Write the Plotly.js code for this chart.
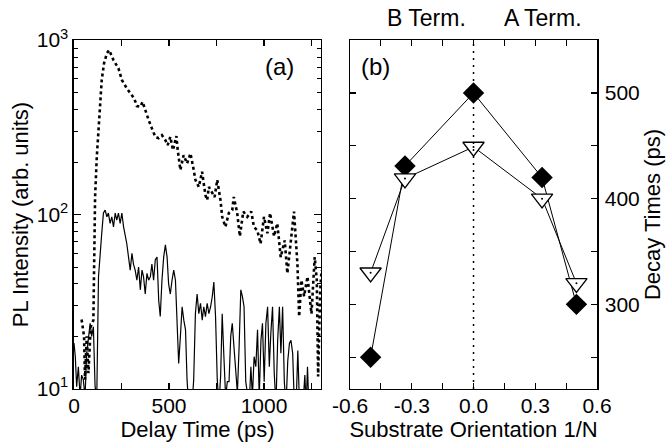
<!DOCTYPE html>
<html>
<head>
<meta charset="utf-8">
<script src="https://cdn.plot.ly/plotly-3.0.1.min.js"></script>
<style>html,body{margin:0;padding:0;background:#fff;}</style>
</head>
<body>
<div id="chart" style="width:669px;height:446px;"></div>
<script>
// Panel (a): PL transients
const timeDotted = [40,53,58,67,76,88,102,111,120,129,137,146,158,173,185,208,234,252,278,305,317,331,349,361,375,393,410,428,445,463,481,493,507,521,539,546,560,577,595,613,627,639,657,674,692,701,710,727,740,754,771,780,797,815,833,841,859,873,891,912,933,947,965,982,1000,1018,1032,1053,1070,1088,1109,1123,1141,1158,1176,1185,1197,1211,1229,1250,1267,1278,1285,1296,1303];
const intensityDotted = [25,20,11.3,20,12.3,22.7,24.8,126,214,318,453,591,735,839,877,768,689,591,529,484,463,419,415,443,397,348,312,279,274,285,267,250,279,234,282,234,180,219,196,224,188,158,144,176,129,121,144,132,126,158,121,97,85,102,106,126,102,75,104,97,104,85,81,68,97,78,102,75,89,57,71,46,71,104,52,26,42,34,44,27,57,42,11.8,37,48];

const timeSolid = [0,7,14,23,32,40,49,58,67,76,85,93,102,111,120,129,137,146,155,164,173,181,190,199,208,217,225,234,243,252,261,269,278,287,296,305,313,322,331,340,349,358,366,375,384,393,402,410,419,428,437,446,454,463,472,481,490,498,507,516,525,534,543,551,560,569,578,587,595,604,613,621,630,639,648,657,666,675,683,692,701,710,719,728,736,745,754,763,772,780,789,798,807,816,825,833,842,851,860,869,878,886,895,904,913,922,931,939,948,957,966,975,984,992,1001,1010,1019,1028,1036,1045,1054,1063,1072,1081,1089,1098,1107,1116,1125,1134,1142,1151,1160,1169,1178,1187,1196,1205,1215,1222,1229,1236];
const intensitySolid = [18.3,15.3,10.3,13.4,9,12,11.3,9,16,20,23.8,20,22.7,10.3,9,44,55,78,102,106,97,102,89,97,85,102,93,102,89,102,85,78,68,57,48,60,52,48,42,50,37,48,44,35,46,42,44,52,42,55,57,32,26,42,57,67,57,40,35,42,48,42,20.8,14,20,29.6,24.8,21.8,11.3,8,8,8,11.3,27,35,27,31,24.8,29.6,26,31,27,29.6,34,41,26,11.3,8,12,27,15.3,9,11,11,20,23.8,17.4,13.4,9.5,17.4,37,34,29.6,11,9,8,13.4,9,15.3,13.4,21.8,9,19,23.8,11,23.8,29.6,13.4,20.8,29.6,12.3,8,19,29.6,16,29.6,11,8,14.4,18.3,19,16,8,8,16.6,8,8,8,12,8,13.4,8];

const delayTickVals = [0,500,1000];
const delayTickText = ['0','500','1000'];
const plTickVals = [10,100,1000];
const plTickText = ['10<sup>1</sup>','10<sup>2</sup>','10<sup>3</sup>'];

// Panel (b): decay times vs substrate orientation
const orientation = [-0.5,-0.333,0,0.333,0.5];
const decayFilled = [250,431,500,420,300];
const decayOpen = [330,419,449,400,320];
const orientTickVals = [-0.6,-0.3,0,0.3,0.6];
const orientTickText = ['-0.6','-0.3','0.0','0.3','0.6'];
const decayTickVals = [300,400,500];
const decayTickText = ['300','400','500'];

const FONT = 'Liberation Sans, Arial, Helvetica, sans-serif';

const traces = [
  {x: timeDotted, y: intensityDotted, xaxis:'x', yaxis:'y', mode:'lines',
   line:{color:'black', width:2.6, dash:'dot'}},
  {x: timeSolid, y: intensitySolid, xaxis:'x', yaxis:'y', mode:'lines',
   line:{color:'black', width:1.2}},
  {x: orientation, y: decayFilled, xaxis:'x2', yaxis:'y2', mode:'lines+markers',
   line:{color:'black', width:1},
   marker:{symbol:'diamond', size:16.5, color:'black'}},
  {x: orientation, y: decayOpen, xaxis:'x2', yaxis:'y2', mode:'lines+markers',
   line:{color:'black', width:1},
   marker:{symbol:'triangle-down', size:18.5, color:'white', line:{color:'black', width:1.3}}},
  {x: orientation, y: decayOpen, xaxis:'x2', yaxis:'y2', mode:'markers',
   marker:{symbol:'circle', size:2, color:'black'}}
];

const common = {
  showline:true, linecolor:'black', linewidth:1.5, mirror:'ticks',
  ticks:'inside', tickcolor:'black', tickwidth:1.2,
  showgrid:false, zeroline:false, automargin:false,
  tickfont:{size:21, family:FONT, color:'black'}
};

const layout = {
  width:669, height:446,
  margin:{l:0, r:0, t:0, b:0},
  paper_bgcolor:'white', plot_bgcolor:'white',
  showlegend:false,
  font:{family:FONT, color:'black', size:21},
  xaxis: Object.assign({}, common, {
    domain:[0.1106,0.4798], anchor:'y', range:[0,1300],
    tickmode:'array', tickvals:delayTickVals, ticktext:delayTickText, ticklen:6,
    ticklabelstandoff:-3,
    minor:{tickmode:'linear', tick0:0, dtick:250, ticks:'inside', ticklen:6, tickcolor:'black', tickwidth:1.2},
    title:{text:'Delay Time (ps)', font:{size:22}, standoff:4}
  }),
  yaxis: Object.assign({}, common, {
    domain:[0.128,0.910], anchor:'x', type:'log', range:[1,3],
    tickmode:'array', tickvals:plTickVals, ticktext:plTickText, ticklen:7,
    minor:{dtick:'D1', ticks:'inside', ticklen:4, tickcolor:'black', tickwidth:1},
    title:{text:'PL Intensity (arb. units)', font:{size:22}, standoff:2}
  }),
  xaxis2: Object.assign({}, common, {
    domain:[0.5232,0.8924], anchor:'y2', range:[-0.6,0.6],
    tickmode:'array', tickvals:orientTickVals, ticktext:orientTickText, ticklen:6,
    ticklabelstandoff:-3,
    minor:{tickmode:'linear', tick0:0, dtick:0.15, ticks:'inside', ticklen:6, tickcolor:'black', tickwidth:1.2},
    title:{text:'Substrate Orientation 1/N', font:{size:22}, standoff:4}
  }),
  yaxis2: Object.assign({}, common, {
    domain:[0.128,0.910], anchor:'x2', side:'right', range:[220,550],
    tickmode:'array', tickvals:decayTickVals, ticktext:decayTickText, ticklen:6,
    ticklabelstandoff:2,
    minor:{tickmode:'linear', tick0:0, dtick:50, ticks:'inside', ticklen:6, tickcolor:'black', tickwidth:1.2},
    title:{text:'Decay Times (ps)', font:{size:22}, standoff:4}
  }),
  shapes:[
    {type:'line', xref:'x2', yref:'y2 domain', x0:0, x1:0, y0:0, y1:1,
     line:{color:'black', width:1.5, dash:'2px,5px'}}
  ],
  annotations:[
    {text:'(a)', xref:'x domain', yref:'y domain', x:0.834, y:0.925, showarrow:false,
     font:{size:24}, xanchor:'center', yanchor:'middle'},
    {text:'(b)', xref:'x2 domain', yref:'y2 domain', x:0.103, y:0.925, showarrow:false,
     font:{size:24}, xanchor:'center', yanchor:'middle'},
    {text:'B Term.', xref:'paper', yref:'paper', x:0.638, y:0.96, showarrow:false,
     font:{size:23}, xanchor:'center', yanchor:'middle'},
    {text:'A Term.', xref:'paper', yref:'paper', x:0.812, y:0.96, showarrow:false,
     font:{size:23}, xanchor:'center', yanchor:'middle'}
  ]
};

Plotly.newPlot('chart', traces, layout, {staticPlot:true, displayModeBar:false});
</script>
</body>
</html>
